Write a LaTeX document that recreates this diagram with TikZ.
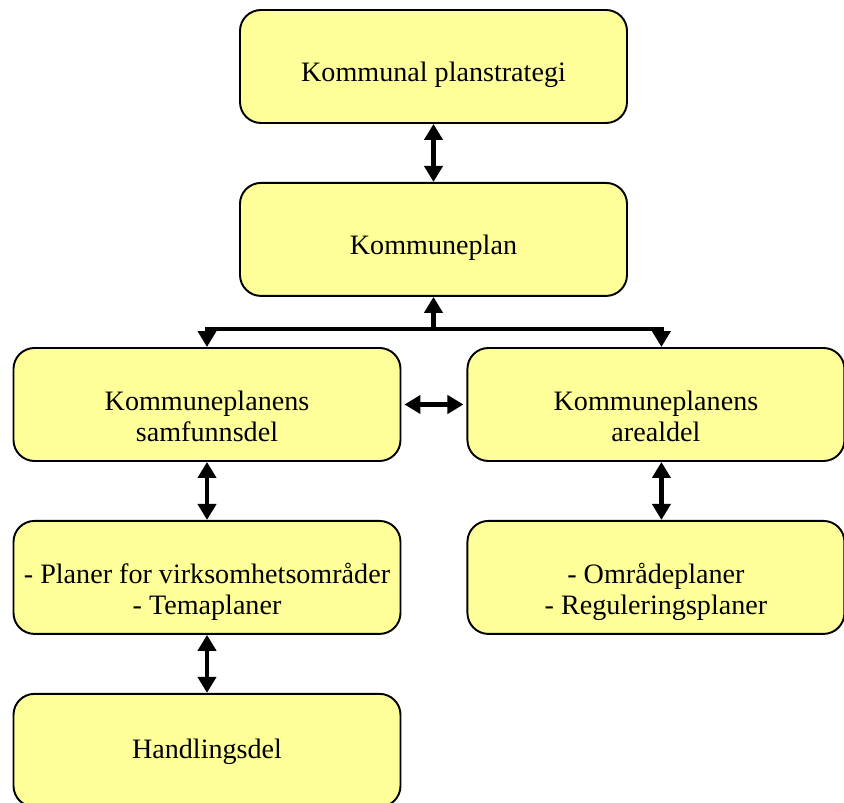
\documentclass[tikz,border=0pt]{standalone}
\usepackage{fontspec}
\setmainfont{Liberation Serif}
\usetikzlibrary{positioning, arrows.meta}

\definecolor{planyellow}{RGB}{255,255,153}
% text sits a little below the middle of each box
\newcommand{\boxtext}[2][0.17cm]{\raisebox{-#1}[\height][\depth]{\begin{tabular}{@{}c@{}}#2\end{tabular}}}

\begin{document}
\begin{tikzpicture}[node distance=1.16cm, every node/.style={font=\fontsize{16}{17.6}\selectfont}]
  \tikzset{block/.style={draw, line width=1.1pt, fill=planyellow, rounded corners=0.42cm,
      minimum width=7.74cm, minimum height=2.26cm, align=center, inner sep=0pt},
    smallblock/.style={block, minimum width=7.54cm},
    fat/.style={line width=2.6pt, -{Triangle[length=0.32cm,width=0.36cm]}},
    fatboth/.style={fat, {Triangle[length=0.32cm,width=0.36cm]}-{Triangle[length=0.32cm,width=0.36cm]}}}
  \useasboundingbox (0,0) rectangle (16.88,16.06);

  \node[block] (strategi) at (8.67,14.73) {\boxtext{Kommunal planstrategi}};
  \node[block, below=of strategi] (kplan) {\boxtext[0.18cm]{Kommuneplan}};
  \node[block] (samf) at (4.14,7.97) {\boxtext[0.3cm]{Kommuneplanens\\samfunnsdel}};
  \node[smallblock, right=1.3cm of samf] (areal) {\boxtext[0.3cm]{Kommuneplanens\\arealdel}};
  \node[block, below=of samf] (tema) {\boxtext[0.3cm]{- Planer for virksomhetsområder\\- Temaplaner}};
  \node[smallblock, below=of areal] (omr) {\boxtext[0.3cm]{- Områdeplaner\\- Reguleringsplaner}};
  \node[block, below=of tema] (handl) {\boxtext[0.04cm]{Handlingsdel}};

  \coordinate[below=0.64cm of kplan.south] (fork);

  \draw[fatboth] (strategi) -- (kplan);
  \draw[fat] (fork) -- (kplan.south);
  \draw[fat] (fork) -| (samf.north);
  \draw[fat] (fork) -| ([xshift=0.11cm]areal.north);
  \draw[fatboth, shorten <=0.06cm, shorten >=0.06cm] (samf) -- (areal);
  \draw[fatboth] (samf) -- (tema);
  \draw[fatboth] ([xshift=0.11cm]areal.south) -- ([xshift=0.11cm]omr.north);
  \draw[fatboth] (tema) -- (handl);
\end{tikzpicture}
\end{document}
